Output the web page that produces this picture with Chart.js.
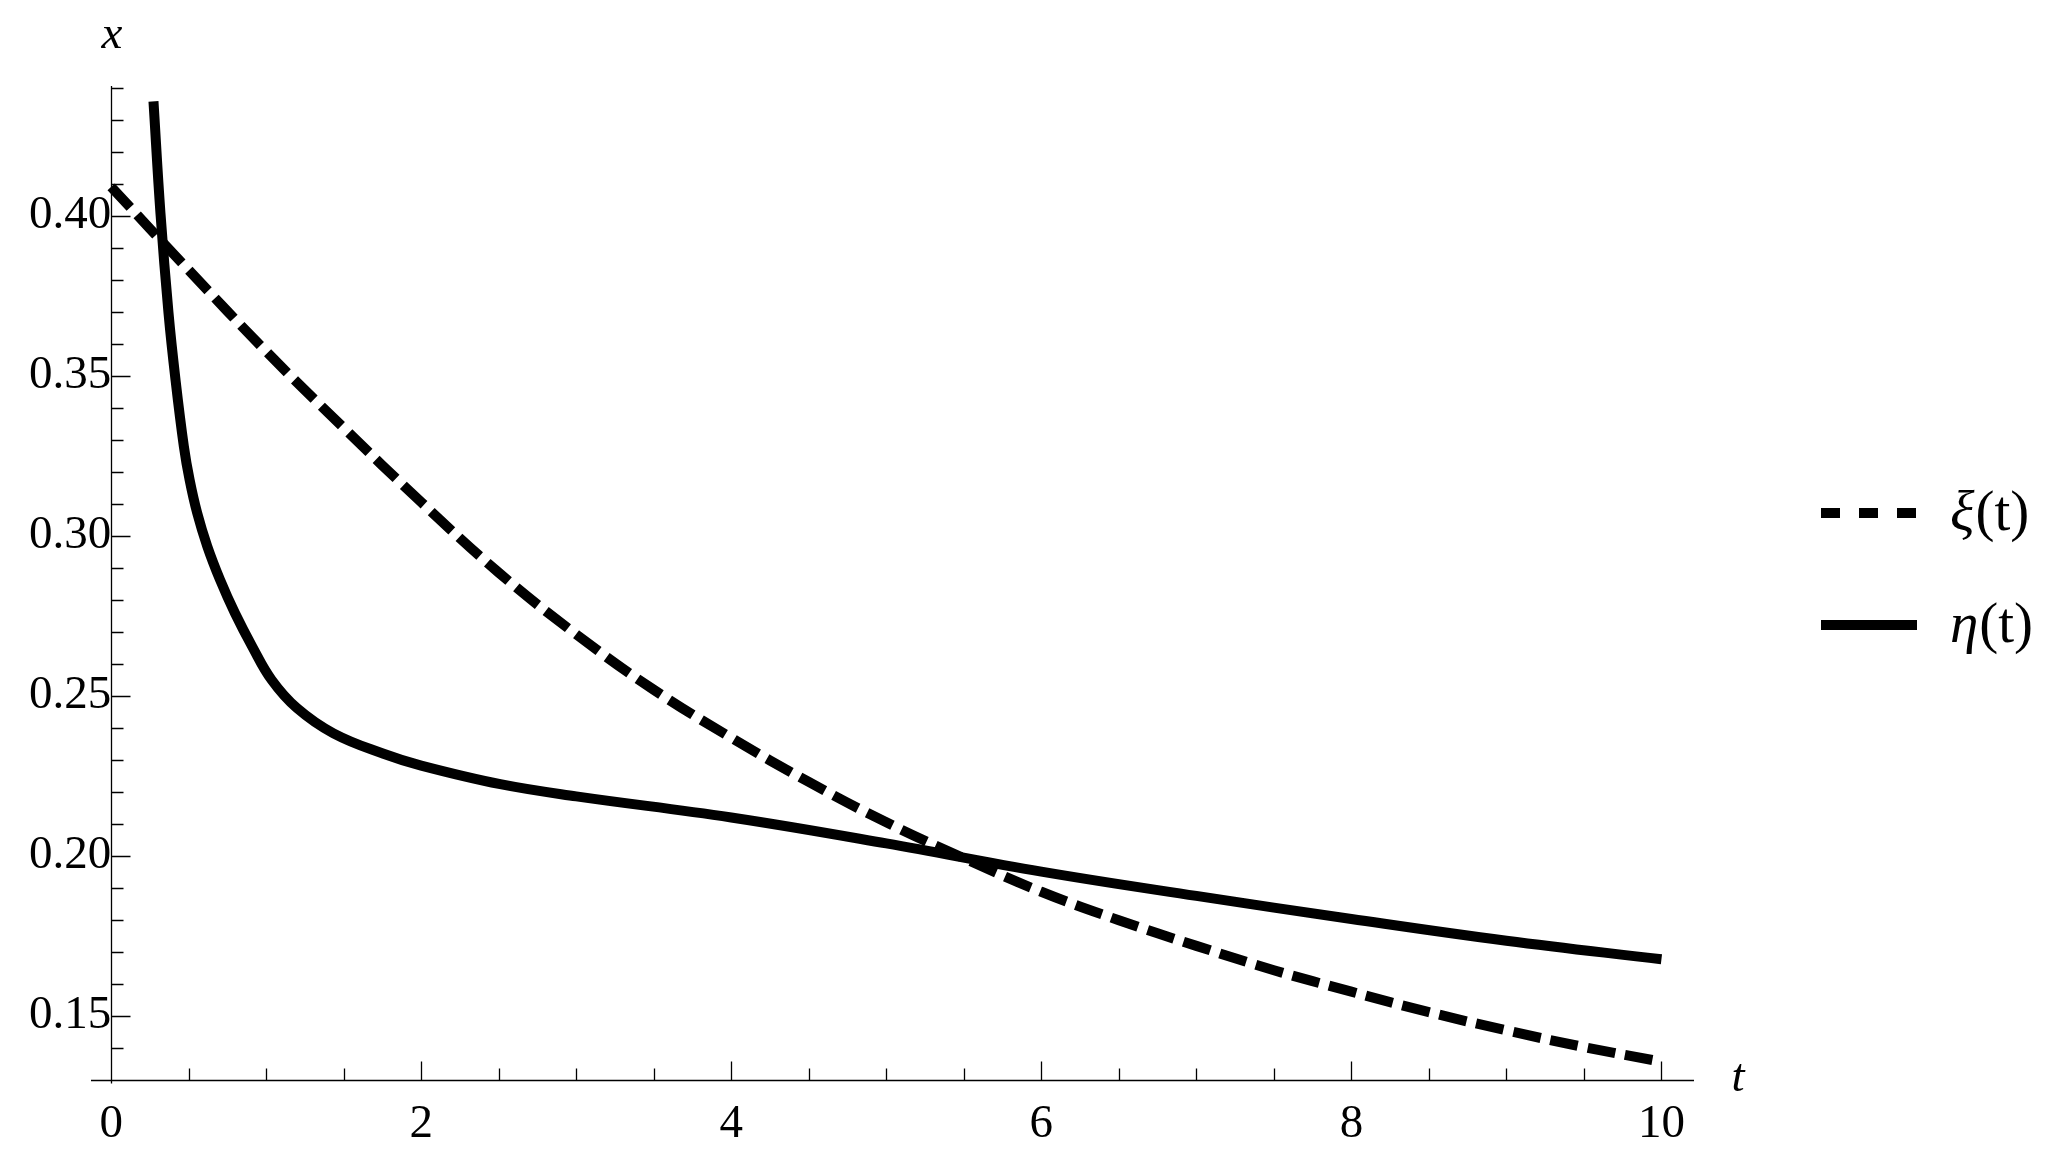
<!DOCTYPE html>
<html>
<head>
<meta charset="utf-8">
<script src="https://cdn.jsdelivr.net/npm/chart.js@4.4.1/dist/chart.umd.min.js"></script>
<style>
  body { margin: 0; background: #fff; }
  #wrap { width: 2054px; height: 1159px; }
</style>
</head>
<body>
<div id="wrap"><canvas id="curves" width="2054" height="1159"></canvas></div>
<script>
// values
const xiT  = [0, 0.5, 1, 1.5, 2, 2.5, 3, 3.5, 4, 4.5, 5, 5.5, 6, 6.5, 7, 7.5, 8, 8.5, 9, 9.5, 10];
const xiX  = [0.409, 0.383, 0.3576, 0.3337, 0.3105, 0.2885, 0.2692, 0.2519, 0.2369, 0.2231, 0.2105, 0.1993, 0.1888, 0.1799, 0.1719, 0.1643, 0.1576, 0.1512, 0.1455, 0.1403, 0.1357];

const etaT = [0.273, 0.318, 0.370, 0.415, 0.469, 0.506, 0.555, 0.620, 0.702, 0.799, 0.910, 1.035, 1.198, 1.434, 1.757, 2, 2.51, 3, 4, 5, 6, 7, 8, 9, 10];
const etaX = [0.4357, 0.4008, 0.3696, 0.3488, 0.3279, 0.3175, 0.3071, 0.2967, 0.2863, 0.2758, 0.2654, 0.255, 0.2462, 0.2383, 0.2319, 0.2282, 0.2224, 0.2186, 0.212, 0.2039, 0.1951, 0.1875, 0.1803, 0.1735, 0.1677];

const seriesNames = ['ξ', 'η'];
const xTickLabels = ['0', '2', '4', '6', '8', '10'];
const yTickLabels = ['0.15', '0.20', '0.25', '0.30', '0.35', '0.40'];

const serif = "'Liberation Serif', 'DejaVu Serif', serif";

function toPoints(ts, vs) {
    return ts.map((t, i) => ({ x: t, y: vs[i] }));
}

function xLabel(v) {
    let s = String(Math.round(v * 10) / 10);
    return xTickLabels.includes(s) ? s : '';
}
function yLabel(v) {
    let s = v.toFixed(2);
    return yTickLabels.includes(s) ? s : '';
}

// axes with inward ticks, axis names and the legend
const frame = {
    id: 'frame',
    beforeDatasetsDraw(chart) {
        const ctx = chart.ctx;
        const xs = chart.scales.x, ys = chart.scales.y;
        const area = chart.chartArea;
        const ax = Math.round(xs.getPixelForValue(0)) + 0.5;
        const ay = Math.round(ys.getPixelForValue(0.13)) + 0.5;
        ctx.save();
        ctx.strokeStyle = '#000';
        ctx.lineWidth = 1.3;
        ctx.beginPath();
        ctx.moveTo(area.left, ay);
        ctx.lineTo(area.right, ay);
        ctx.moveTo(ax, area.top);
        ctx.lineTo(ax, ay + 3);
        xs.ticks.forEach(tk => {
            if (Math.abs(tk.value) < 1e-9) return;
            const px = Math.round(xs.getPixelForValue(tk.value)) + 0.5;
            const len = xLabel(tk.value) ? 19 : 12;
            ctx.moveTo(px, ay);
            ctx.lineTo(px, ay - len);
        });
        ys.ticks.forEach(tk => {
            if (Math.abs(tk.value - 0.13) < 1e-9) return;
            const py = Math.round(ys.getPixelForValue(tk.value)) + 0.5;
            const len = yLabel(tk.value) ? 19 : 12;
            ctx.moveTo(ax, py);
            ctx.lineTo(ax + len, py);
        });
        ctx.stroke();
        ctx.restore();
    },
    afterDraw(chart) {
        const ctx = chart.ctx;
        ctx.save();
        ctx.fillStyle = '#000';
        ctx.textBaseline = 'middle';
        ctx.textAlign = 'center';
        ctx.font = 'italic 47px ' + serif;
        ctx.fillText('x', 112, 36);
        ctx.fillText('t', 1738, 1079);

        // legend
        const rows = [513, 625];
        chart.data.datasets.forEach((ds, i) => {
            const y = rows[i];
            ctx.strokeStyle = '#000';
            ctx.lineWidth = 10;
            ctx.lineCap = 'butt';
            ctx.setLineDash(i === 0 ? [19, 19] : []);
            ctx.beginPath();
            ctx.moveTo(1821, y);
            ctx.lineTo(1917, y);
            ctx.stroke();
            ctx.setLineDash([]);
            ctx.textAlign = 'left';
            ctx.font = 'italic 57px ' + serif;
            ctx.fillText(seriesNames[i], 1950, y + 2);
            const w = ctx.measureText(seriesNames[i]).width;
            ctx.font = '57px ' + serif;
            ctx.fillText('(t)', 1950 + w + 1, y + 2);
        });
        ctx.restore();
    }
};

new Chart(document.getElementById('curves'), {
    type: 'line',
    data: {
        datasets: [{
            label: seriesNames[0] + '(t)',
            data: toPoints(xiT, xiX),
            borderColor: '#000',
            borderWidth: 10,
            borderDash: [28, 10],
            borderCapStyle: 'butt',
            pointRadius: 0,
            fill: false,
            tension: 0.4
        }, {
            label: seriesNames[1] + '(t)',
            data: toPoints(etaT, etaX),
            borderColor: '#000',
            borderWidth: 10,
            borderCapStyle: 'butt',
            pointRadius: 0,
            fill: false,
            tension: 0.4
        }]
    },
    options: {
        responsive: false,
        animation: false,
        layout: { padding: { left: 91, top: 86, right: 360, bottom: 79 } },
        plugins: {
            legend: { display: false },
            tooltip: { enabled: false }
        },
        scales: {
            x: {
                type: 'linear',
                min: -0.13,
                max: 10.21,
                position: { y: 0.13 },
                grid: { display: false, drawTicks: false },
                border: { display: false },
                ticks: {
                    stepSize: 0.5,
                    autoSkip: false,
                    includeBounds: false,
                    maxTicksLimit: 100,
                    maxRotation: 0,
                    padding: 16,
                    color: '#000',
                    font: { family: serif, size: 47 },
                    callback: xLabel
                }
            },
            y: {
                type: 'linear',
                min: 0.13,
                max: 0.4405,
                position: { x: 0 },
                grid: { display: false, drawTicks: false },
                border: { display: false },
                ticks: {
                    stepSize: 0.01,
                    autoSkip: false,
                    includeBounds: false,
                    maxTicksLimit: 100,
                    padding: 13,
                    color: '#000',
                    font: { family: serif, size: 47 },
                    callback: yLabel
                }
            }
        }
    },
    plugins: [frame]
});
</script>
</body>
</html>
